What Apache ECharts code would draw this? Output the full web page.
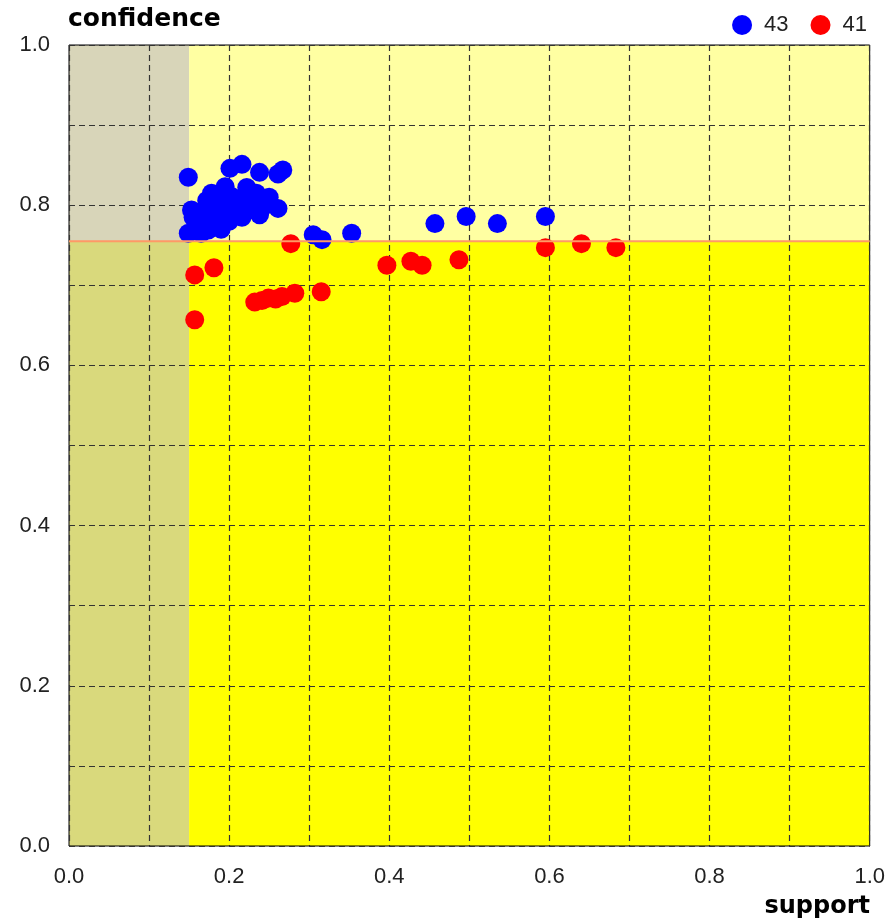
<!DOCTYPE html>
<html>
<head>
<meta charset="utf-8">
<script src="https://cdn.jsdelivr.net/npm/echarts@6/dist/echarts.min.js"></script>
<style>
  html, body { margin: 0; padding: 0; background: #fff; }
  #chart { width: 888px; height: 922px; }
</style>
</head>
<body>
<div id="chart"></div>
<script>
// thresholds for the shaded zones
const minSupport = 0.15;
const minConfidence = 0.755;

// series "43" (blue) as [support, confidence]
const blueSupport = [0.149, 0.201, 0.216, 0.238, 0.267, 0.261, 0.178, 0.195, 0.211, 0.234, 0.232, 0.261,
  0.238, 0.153, 0.157, 0.149, 0.174, 0.19, 0.199, 0.174, 0.186, 0.216, 0.172, 0.203, 0.182,
  0.165, 0.18, 0.19, 0.205, 0.22, 0.225, 0.16, 0.175, 0.2, 0.245, 0.25, 0.222, 0.185, 0.17,
  0.155, 0.165, 0.19, 0.21,
  0.305, 0.316, 0.353, 0.457, 0.496, 0.535, 0.595];
const blueConfidence = [0.835, 0.846, 0.851, 0.841, 0.844, 0.839, 0.815, 0.823, 0.806, 0.815, 0.794, 0.796,
  0.788, 0.794, 0.769, 0.765, 0.769, 0.777, 0.786, 0.79, 0.798, 0.785, 0.806, 0.811, 0.779,
  0.78, 0.79, 0.80, 0.795, 0.80, 0.81, 0.775, 0.775, 0.78, 0.80, 0.81, 0.822, 0.81, 0.795,
  0.785, 0.765, 0.77, 0.79,
  0.763, 0.757, 0.765, 0.777, 0.786, 0.777, 0.786];

// series "41" (red)
const redSupport = [0.397, 0.427, 0.441, 0.487, 0.595, 0.640, 0.683, 0.277, 0.157, 0.181, 0.157, 0.315,
  0.232, 0.249, 0.266, 0.282, 0.241, 0.258];
const redConfidence = [0.725, 0.730, 0.725, 0.732, 0.747, 0.752, 0.747, 0.752, 0.713, 0.722, 0.657, 0.692,
  0.679, 0.684, 0.686, 0.690, 0.681, 0.683];

const tickLabels = ['0.0', '0.2', '0.4', '0.6', '0.8', '1.0'];

const zip = (xs, ys) => xs.map((x, i) => [x, ys[i]]);

function tickFormatter(v) {
  const k = Math.round(v * 10);
  return k % 2 === 0 ? tickLabels[k / 2] : '';
}

const labelFont = { fontFamily: 'Liberation Sans', fontSize: 22, color: '#222' };
const dashed = { color: '#333', width: 1.2, type: [6, 4] };

const chart = echarts.init(document.getElementById('chart'));

chart.setOption({
  animation: false,
  grid: {
    left: 69, top: 45, width: 801, height: 801,
    show: true, borderColor: '#000', borderWidth: 1, backgroundColor: 'transparent'
  },
  legend: {
    right: 16, top: 9,
    itemWidth: 20, itemHeight: 20, itemGap: 22,
    icon: 'circle',
    textStyle: Object.assign({ padding: [0, 0, 0, 7] }, labelFont),
    data: ['43', '41']
  },
  xAxis: {
    type: 'value', min: 0, max: 1, interval: 0.1,
    axisLine: { show: false }, axisTick: { show: false },
    axisLabel: Object.assign({ margin: 20, formatter: tickFormatter }, labelFont),
    splitLine: { show: true, lineStyle: dashed }
  },
  yAxis: {
    type: 'value', min: 0, max: 1, interval: 0.1,
    axisLine: { show: false }, axisTick: { show: false },
    axisLabel: Object.assign({ margin: 19, formatter: tickFormatter }, labelFont),
    splitLine: { show: true, lineStyle: dashed }
  },
  graphic: [
    { type: 'text', left: 68, top: 7,
      style: { text: 'confidence', font: 'bold 25px "DejaVu Sans"', fill: '#000' } },
    { type: 'text', right: 18, top: 895,
      style: { text: 'support', font: 'bold 24px "DejaVu Sans"', fill: '#000' } }
  ],
  series: [
    {
      type: 'scatter', data: [], silent: true,
      markArea: {
        silent: true, z: -1,
        data: [
          [{ xAxis: 0, yAxis: minConfidence, itemStyle: { color: '#d8d5b9' } }, { xAxis: minSupport, yAxis: 1 }],
          [{ xAxis: 0, yAxis: 0, itemStyle: { color: '#d9d97c' } }, { xAxis: minSupport, yAxis: minConfidence }],
          [{ xAxis: minSupport, yAxis: minConfidence, itemStyle: { color: '#ffffa2' } }, { xAxis: 1, yAxis: 1 }],
          [{ xAxis: minSupport, yAxis: 0, itemStyle: { color: '#ffff00' } }, { xAxis: 1, yAxis: minConfidence }]
        ]
      }
    },
    {
      type: 'line', silent: true, symbol: 'none',
      lineStyle: { color: '#ff9966', width: 2 },
      data: [[0, minConfidence], [1, minConfidence]]
    },
    {
      name: '43', type: 'scatter', symbolSize: 19,
      itemStyle: { color: '#0000ff', opacity: 1 },
      data: zip(blueSupport, blueConfidence)
    },
    {
      name: '41', type: 'scatter', symbolSize: 19,
      itemStyle: { color: '#ff0000', opacity: 1 },
      data: zip(redSupport, redConfidence)
    }
  ]
});
</script>
</body>
</html>
